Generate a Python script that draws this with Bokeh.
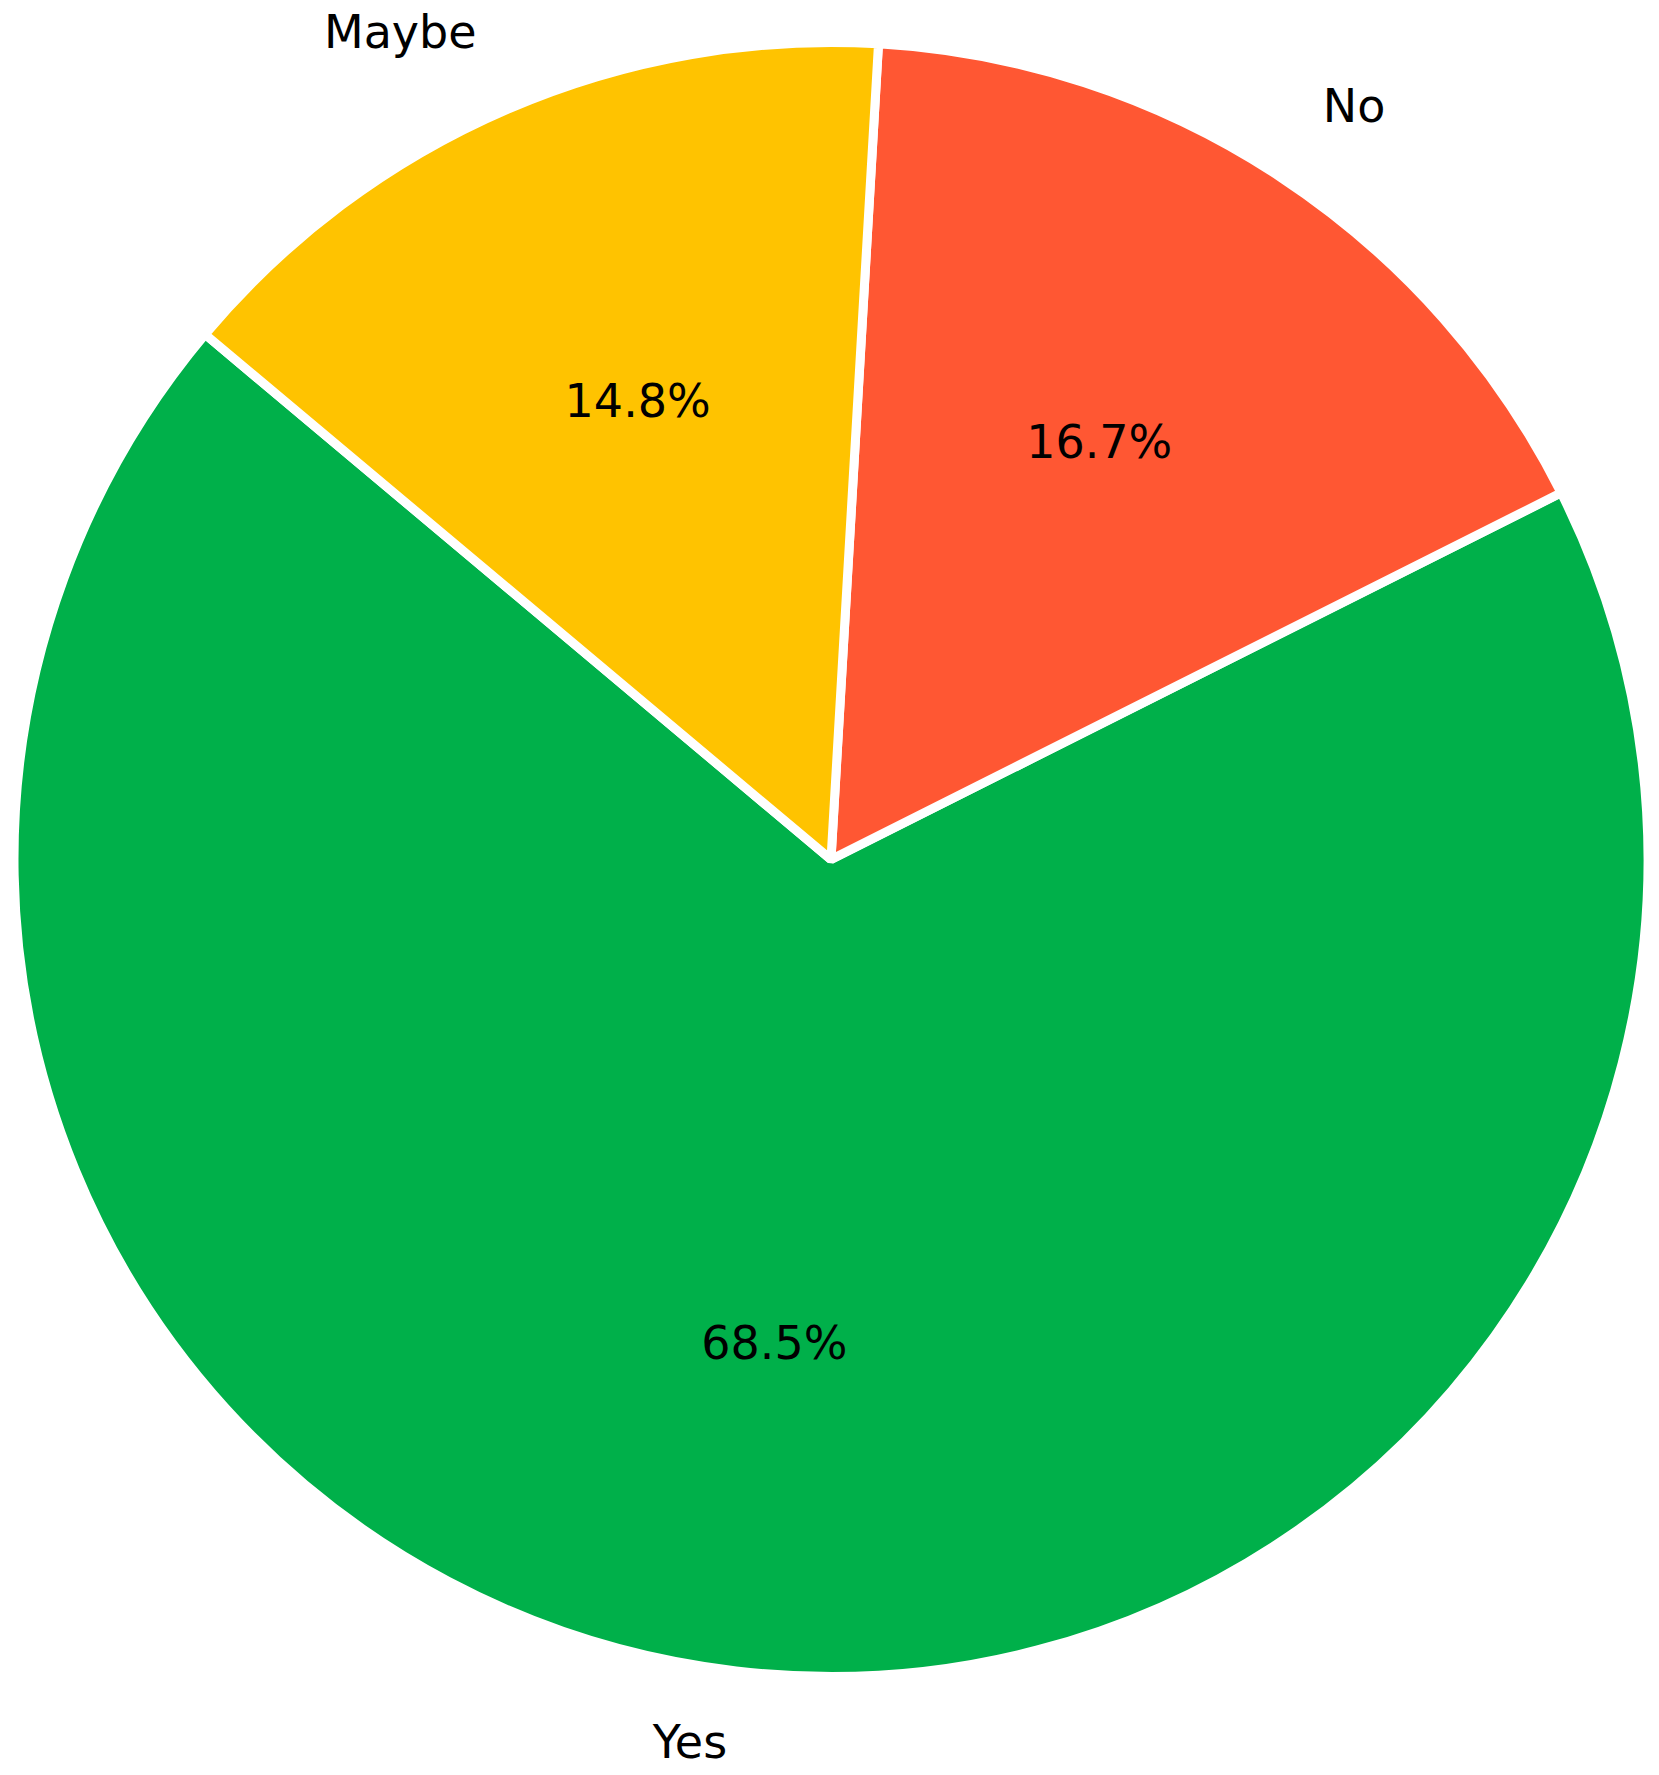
import math
from bokeh.plotting import figure
from bokeh.models import Range1d, ColumnDataSource
from bokeh.embed import file_html
from bokeh.resources import INLINE
from bokeh.core.properties import value

# ---- data ----
categories = ["Yes", "No", "Maybe"]
counts = [37, 9, 8]
colors = ["#00B04A", "#FF5733", "#FFC300"]

# ---- layout (screen pixels; data y = PAGE_H - screen y) ----
PAGE_W, PAGE_H = 1659, 1775
W, H = 1659, 1775
OX, OY = 0, 0  # figure's top-left on screen
CX, CY_SCREEN = 830.5, 859.0
CY = PAGE_H - CY_SCREEN
R = 817.0
RX_TXT, RY_TXT = 813.5, 821.5
LABEL_R = 813.5
TXT_DY = 6.0  # baseline correction for text vertical centring
FONT_SIZE = "46px"
START_DEG = 140.0

total = float(sum(counts))
fracs = [c / total for c in counts]
starts, ends, mids = [], [], []
a = math.radians(START_DEG)
for f in fracs:
    b = a + f * 2 * math.pi
    starts.append(a)
    ends.append(b)
    mids.append((a + b) / 2)
    a = b

src = ColumnDataSource(dict(cat=categories, start=starts, end=ends, color=colors))

p = figure(width=W, height=H, output_backend="svg", toolbar_location=None,
           x_range=Range1d(OX, OX + W), y_range=Range1d(PAGE_H - OY - H, PAGE_H - OY),
           min_border=0)
p.axis.visible = False
p.grid.visible = False
p.outline_line_color = None
p.background_fill_color = "white"
p.border_fill_color = "white"

p.wedge(x=CX, y=CY, radius=R, start_angle="start", end_angle="end",
        fill_color="color", line_color="white", line_width=9, source=src)

# percentage labels
px = [CX + 0.6 * RX_TXT * math.cos(m) for m in mids]
py = [CY + 0.6 * RY_TXT * math.sin(m) + TXT_DY for m in mids]
pct = ["%.1f%%" % (f * 100) for f in fracs]
p.text(x=px, y=py, text=pct, text_font=value("DejaVu Sans"), text_font_size=FONT_SIZE,
       text_align="center", text_baseline="middle", text_color="black")

# category labels
for cat, m in zip(categories, mids):
    lx = CX + 1.1 * LABEL_R * math.cos(m)
    ly = CY + 1.1 * LABEL_R * math.sin(m) + TXT_DY
    p.text(x=[lx], y=[ly], text=[cat], text_font=value("DejaVu Sans"), text_font_size=FONT_SIZE,
           text_align="left" if math.cos(m) > 0 else "right",
           text_baseline="middle", text_color="black")

open("out.html", "w").write(file_html(p, INLINE))
